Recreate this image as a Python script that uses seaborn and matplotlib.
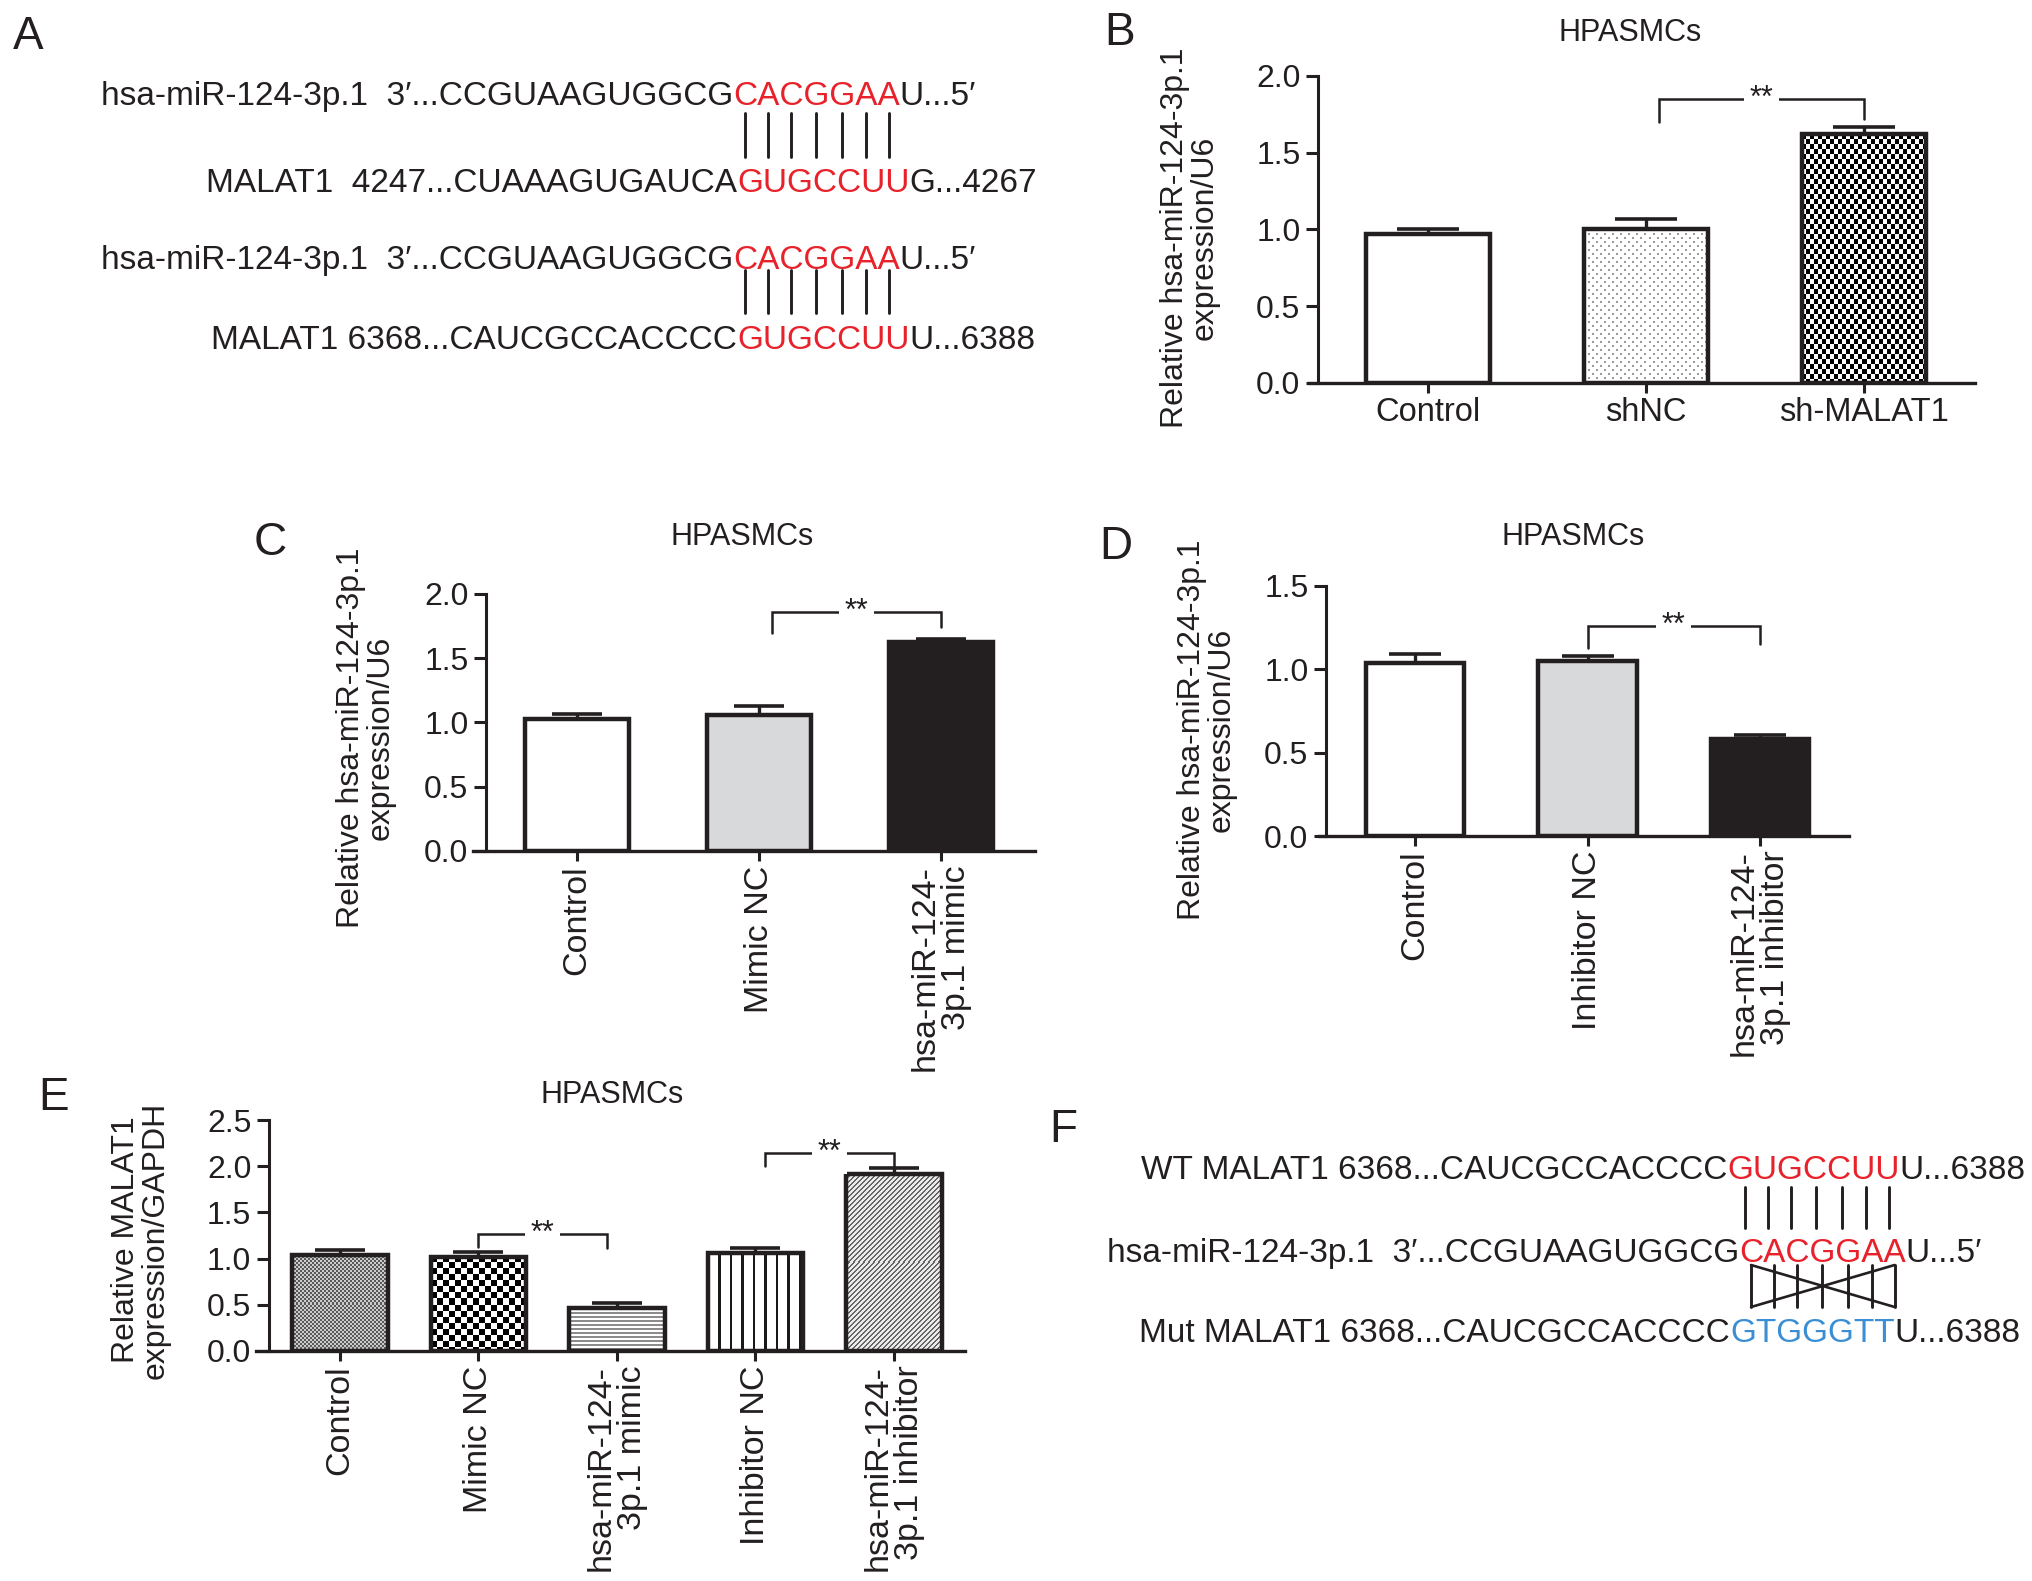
import numpy as np
import matplotlib
matplotlib.use('Agg')
import matplotlib.pyplot as plt
from matplotlib.lines import Line2D
import seaborn as sns

# ---------------- data ----------------
b_groups = ['Control', 'shNC', 'sh-MALAT1']
b_mean = [0.97, 1.00, 1.62]
b_sem = [0.03, 0.07, 0.05]

c_groups = ['Control', 'Mimic NC', 'hsa-miR-124-\n3p.1 mimic']
c_mean = [1.03, 1.06, 1.63]
c_sem = [0.035, 0.07, 0.02]

d_groups = ['Control', 'Inhibitor NC', 'hsa-miR-124-\n3p.1 inhibitor']
d_mean = [1.04, 1.05, 0.58]
d_sem = [0.05, 0.03, 0.025]

e_groups = ['Control', 'Mimic NC', 'hsa-miR-124-\n3p.1 mimic',
            'Inhibitor NC', 'hsa-miR-124-\n3p.1 inhibitor']
e_mean = [1.04, 1.02, 0.465, 1.06, 1.92]
e_sem = [0.05, 0.05, 0.055, 0.06, 0.06]

# significance brackets: (from, to, top, left foot, right foot)
b_sig = [(1.06, 2.0, 1.85, 1.70, 1.72)]
c_sig = [(1.07, 2.0, 1.86, 1.70, 1.74)]
d_sig = [(1.0, 2.0, 1.26, 1.13, 1.15)]
e_sig = [(1.0, 1.93, 1.27, 1.13, 1.11), (3.07, 4.0, 2.14, 2.00, 1.98)]

# sequences: (black prefix, coloured seed, black suffix)
seq_a = [
    ('hsa-miR-124-3p.1  3\u2032...CCGUAAGUGGCG', 'CACGGAA', 'U...5\u2032'),
    ('MALAT1  4247...CUAAAGUGAUCA', 'GUGCCUU', 'G...4267'),
    ('hsa-miR-124-3p.1  3\u2032...CCGUAAGUGGCG', 'CACGGAA', 'U...5\u2032'),
    ('MALAT1 6368...CAUCGCCACCCC', 'GUGCCUU', 'U...6388'),
]
seq_f = [
    ('WT MALAT1 6368...CAUCGCCACCCC', 'GUGCCUU', 'U...6388'),
    ('hsa-miR-124-3p.1  3\u2032...CCGUAAGUGGCG', 'CACGGAA', 'U...5\u2032'),
    ('Mut MALAT1 6368...CAUCGCCACCCC', 'GTGGGTT', 'U...6388'),
]

INK = '#231f20'
RED = '#e8222b'
BLUE = '#3a8fd4'
W, H = 2032, 1581

sns.set_style('ticks')
plt.rcParams['font.family'] = ['Liberation Sans', 'DejaVu Sans']
plt.rcParams['text.color'] = INK
plt.rcParams['axes.edgecolor'] = INK
plt.rcParams['axes.linewidth'] = 2.2
plt.rcParams['xtick.color'] = INK
plt.rcParams['ytick.color'] = INK

fig = plt.figure(figsize=(W / 100, H / 100), dpi=100)
renderer = fig.canvas.get_renderer()


def texture(kind, w, h):
    yy, xx = np.mgrid[0:h, 0:w]
    img = np.ones((h, w))
    if kind == 'dots':
        m = ((yy % 8 < 2) & (xx % 8 < 2)) | (((yy + 4) % 8 < 2) & ((xx + 4) % 8 < 2))
        img[m] = 0.6
    elif kind == 'checker4':
        img = (((yy // 5) + (xx // 4)) % 2).astype(float)
    elif kind == 'checker6':
        img = (((yy // 6) + (xx // 6)) % 2).astype(float)
    elif kind == 'fine':
        img = np.where(((yy // 2) + (xx // 2)) % 2 == 0, 0.35, 0.8)
    elif kind == 'hlines':
        img[yy % 4 < 2] = 0.55
    elif kind == 'vlines':
        img[((xx - 10) % 11.5) < 2.2] = 0.1
    elif kind == 'diag':
        img = np.where(((xx + yy) % 5) < 2, 0.4, 0.92)
    return img


def panel(box, groups, means, sems, fills, patterns, bar_w, xlim, ylim, yticks,
          spine_off, capsize, rotate, tick_fs, sig):
    l, t, r, b = box
    ax = fig.add_axes([l / W, 1 - b / H, (r - l) / W, (b - t) / H])
    sns.barplot(x=groups, y=means, hue=groups, palette=fills, legend=False,
                width=bar_w, saturation=1, edgecolor=INK, linewidth=3.2,
                errorbar=None, ax=ax)
    ax.set_xlim(xlim)
    ax.set_ylim(ylim)
    ax.autoscale(False)
    bars = sorted(ax.patches, key=lambda p: p.get_x())
    for p, kind in zip(bars, patterns):
        p.set_zorder(3)
        if kind is None:
            continue
        p.set_facecolor('none')
        x0, y0 = p.get_x(), p.get_y()
        x1, y1 = x0 + p.get_width(), y0 + p.get_height()
        (px0, py0), (px1, py1) = ax.transData.transform([(x0, y0), (x1, y1)])
        img = texture(kind, max(int(round(px1 - px0)), 1), max(int(round(py1 - py0)), 1))
        im = ax.imshow(img, cmap='gray', vmin=0, vmax=1, interpolation='nearest',
                       aspect='auto', extent=(x0, x1, y0, y1), zorder=2)
        im.set_clip_path(p)
    ax.set_xlim(xlim)
    ax.set_ylim(ylim)

    cx = [p.get_x() + p.get_width() / 2 for p in bars]
    ax.errorbar(cx, means, yerr=[np.zeros(len(means)), sems], fmt='none',
                ecolor=INK, elinewidth=2.4, capsize=capsize, capthick=2.6, zorder=2.5)

    for (i, j, top, yl, yr) in sig:
        ax.plot([i, i, j, j], [yl, top, top, yr], color=INK, lw=1.8,
                solid_joinstyle='miter', clip_on=False, zorder=4)
        ax.text((i + j) / 2, top, '**', ha='center', va='center', fontsize=22,
                zorder=5, bbox=dict(facecolor='white', edgecolor='none', pad=4))

    sns.despine(ax=ax)
    ax.spines['left'].set_position(('axes', spine_off))
    ax.spines['bottom'].set_linewidth(2.4)
    ax.set_yticks(yticks)
    ax.set_yticklabels([f'{v:.1f}' for v in yticks])
    ax.tick_params(axis='y', length=8.6, width=2.2, pad=4, labelsize=23)
    ax.tick_params(axis='x', length=7.2, width=2.2, pad=3, labelsize=tick_fs)
    ax.set_xlabel('')
    ax.set_ylabel('')
    if rotate:
        for lab in ax.get_xticklabels():
            lab.set_rotation(90)
            lab.set_multialignment('right')
            lab.set_linespacing(1.0)
    ax.patch.set_alpha(0)
    return ax


def ftext(x, y, s, **kw):
    return fig.text(x / W, 1 - y / H, s, **kw)


def seq_line(parts, col, x_seed, y_mid, size=24):
    pre, mid, post = parts
    cap = 0.716 * size * 100 / 72
    yb = y_mid + cap / 2
    kw = dict(fontsize=size, va='baseline')
    ftext(x_seed, yb, pre, ha='right', color=INK, **kw)
    t = ftext(x_seed, yb, mid, ha='left', color=col, **kw)
    bb = t.get_window_extent(renderer)
    ftext(bb.x1, yb, post, ha='left', color=INK, **kw)
    widths = [0.0]
    for k in range(1, len(mid) + 1):
        tmp = fig.text(0, 0, mid[:k], fontsize=size)
        widths.append(tmp.get_window_extent(renderer).width)
        tmp.remove()
    return [x_seed + (widths[k] + widths[k + 1]) / 2 for k in range(len(mid))]


def vbars(xs, y0, y1, lw=2.1):
    for x in xs:
        fig.add_artist(Line2D([x / W, x / W], [1 - y0 / H, 1 - y1 / H],
                              transform=fig.transFigure, color=INK, lw=lw))


def fline(x0, y0, x1, y1, lw=1.9):
    fig.add_artist(Line2D([x0 / W, x1 / W], [1 - y0 / H, 1 - y1 / H],
                          transform=fig.transFigure, color=INK, lw=lw))


LETTER = 33

# ---------------- panel A ----------------
ftext(28, 37, 'A', fontsize=LETTER, ha='center', va='center')
cen = seq_line(seq_a[0], RED, 733, 93)
seq_line(seq_a[1], RED, 737, 180)
vbars(cen, 113, 157)
cen = seq_line(seq_a[2], RED, 733, 257)
seq_line(seq_a[3], RED, 737, 337)
vbars(cen, 270, 313)

# ---------------- panel B ----------------
ftext(1120, 33, 'B', fontsize=LETTER, ha='center', va='center')
ftext(1630, 33, 'HPASMCs', fontsize=22, ha='center', va='center')
panel((1309, 76, 1975, 383), b_groups, b_mean, b_sem,
      ['white', 'white', 'white'], [None, 'dots', 'checker4'], 0.57,
      (-0.546, 2.51), (0, 2.0), [0.0, 0.5, 1.0, 1.5, 2.0], 0.0135, 22, False, 23.5, b_sig)
ftext(1190, 238, 'Relative hsa-miR-124-3p.1\nexpression/U6', fontsize=23, rotation=90,
      ha='center', va='center', multialignment='center', linespacing=1.0)

# ---------------- panel C ----------------
ftext(270, 543, 'C', fontsize=LETTER, ha='center', va='center')
ftext(742, 537, 'HPASMCs', fontsize=22, ha='center', va='center')
panel((473, 594, 1035, 851), c_groups, c_mean, c_sem,
      ['white', '#d8d9db', INK], [None, None, None], 0.57,
      (-0.571, 2.516), (0, 2.0), [0.0, 0.5, 1.0, 1.5, 2.0], 0.023, 18, True, 24.5, c_sig)
ftext(366, 738, 'Relative hsa-miR-124-3p.1\nexpression/U6', fontsize=23, rotation=90,
      ha='center', va='center', multialignment='center', linespacing=1.0)

# ---------------- panel D ----------------
ftext(1116, 547, 'D', fontsize=LETTER, ha='center', va='center')
ftext(1573, 537, 'HPASMCs', fontsize=22, ha='center', va='center')
panel((1319, 586, 1849, 836), d_groups, d_mean, d_sem,
      ['white', '#d8d9db', INK], [None, None, None], 0.57,
      (-0.557, 2.516), (0, 1.5), [0.0, 0.5, 1.0, 1.5], 0.013, 19, True, 24.5, d_sig)
ftext(1207, 730, 'Relative hsa-miR-124-3p.1\nexpression/U6', fontsize=23, rotation=90,
      ha='center', va='center', multialignment='center', linespacing=1.0)

# ---------------- panel E ----------------
ftext(54, 1098, 'E', fontsize=LETTER, ha='center', va='center')
ftext(612, 1095, 'HPASMCs', fontsize=22, ha='center', va='center')
panel((256, 1120, 965, 1351), e_groups, e_mean, e_sem,
      ['white'] * 5, ['fine', 'checker6', 'hlines', 'vlines', 'diag'], 0.69,
      (-0.606, 4.513), (0, 2.5), [0.0, 0.5, 1.0, 1.5, 2.0, 2.5], 0.018, 18, True, 24.5, e_sig)
ftext(141, 1240, 'Relative MALAT1\nexpression/GAPDH', fontsize=23, rotation=90,
      ha='center', va='center', multialignment='center', linespacing=1.0)

# ---------------- panel F ----------------
ftext(1063, 1130, 'F', fontsize=LETTER, ha='center', va='center')
seq_line(seq_f[0], RED, 1727, 1167)
cen = seq_line(seq_f[1], RED, 1739, 1250)
seq_line(seq_f[2], BLUE, 1730, 1330)
vbars([c - 6 for c in cen], 1187, 1228)
vbars(cen, 1265, 1307)
fline(cen[0], 1265, cen[-1], 1307)
fline(cen[0], 1307, cen[-1], 1265)

fig.savefig('out.png', dpi=100)
